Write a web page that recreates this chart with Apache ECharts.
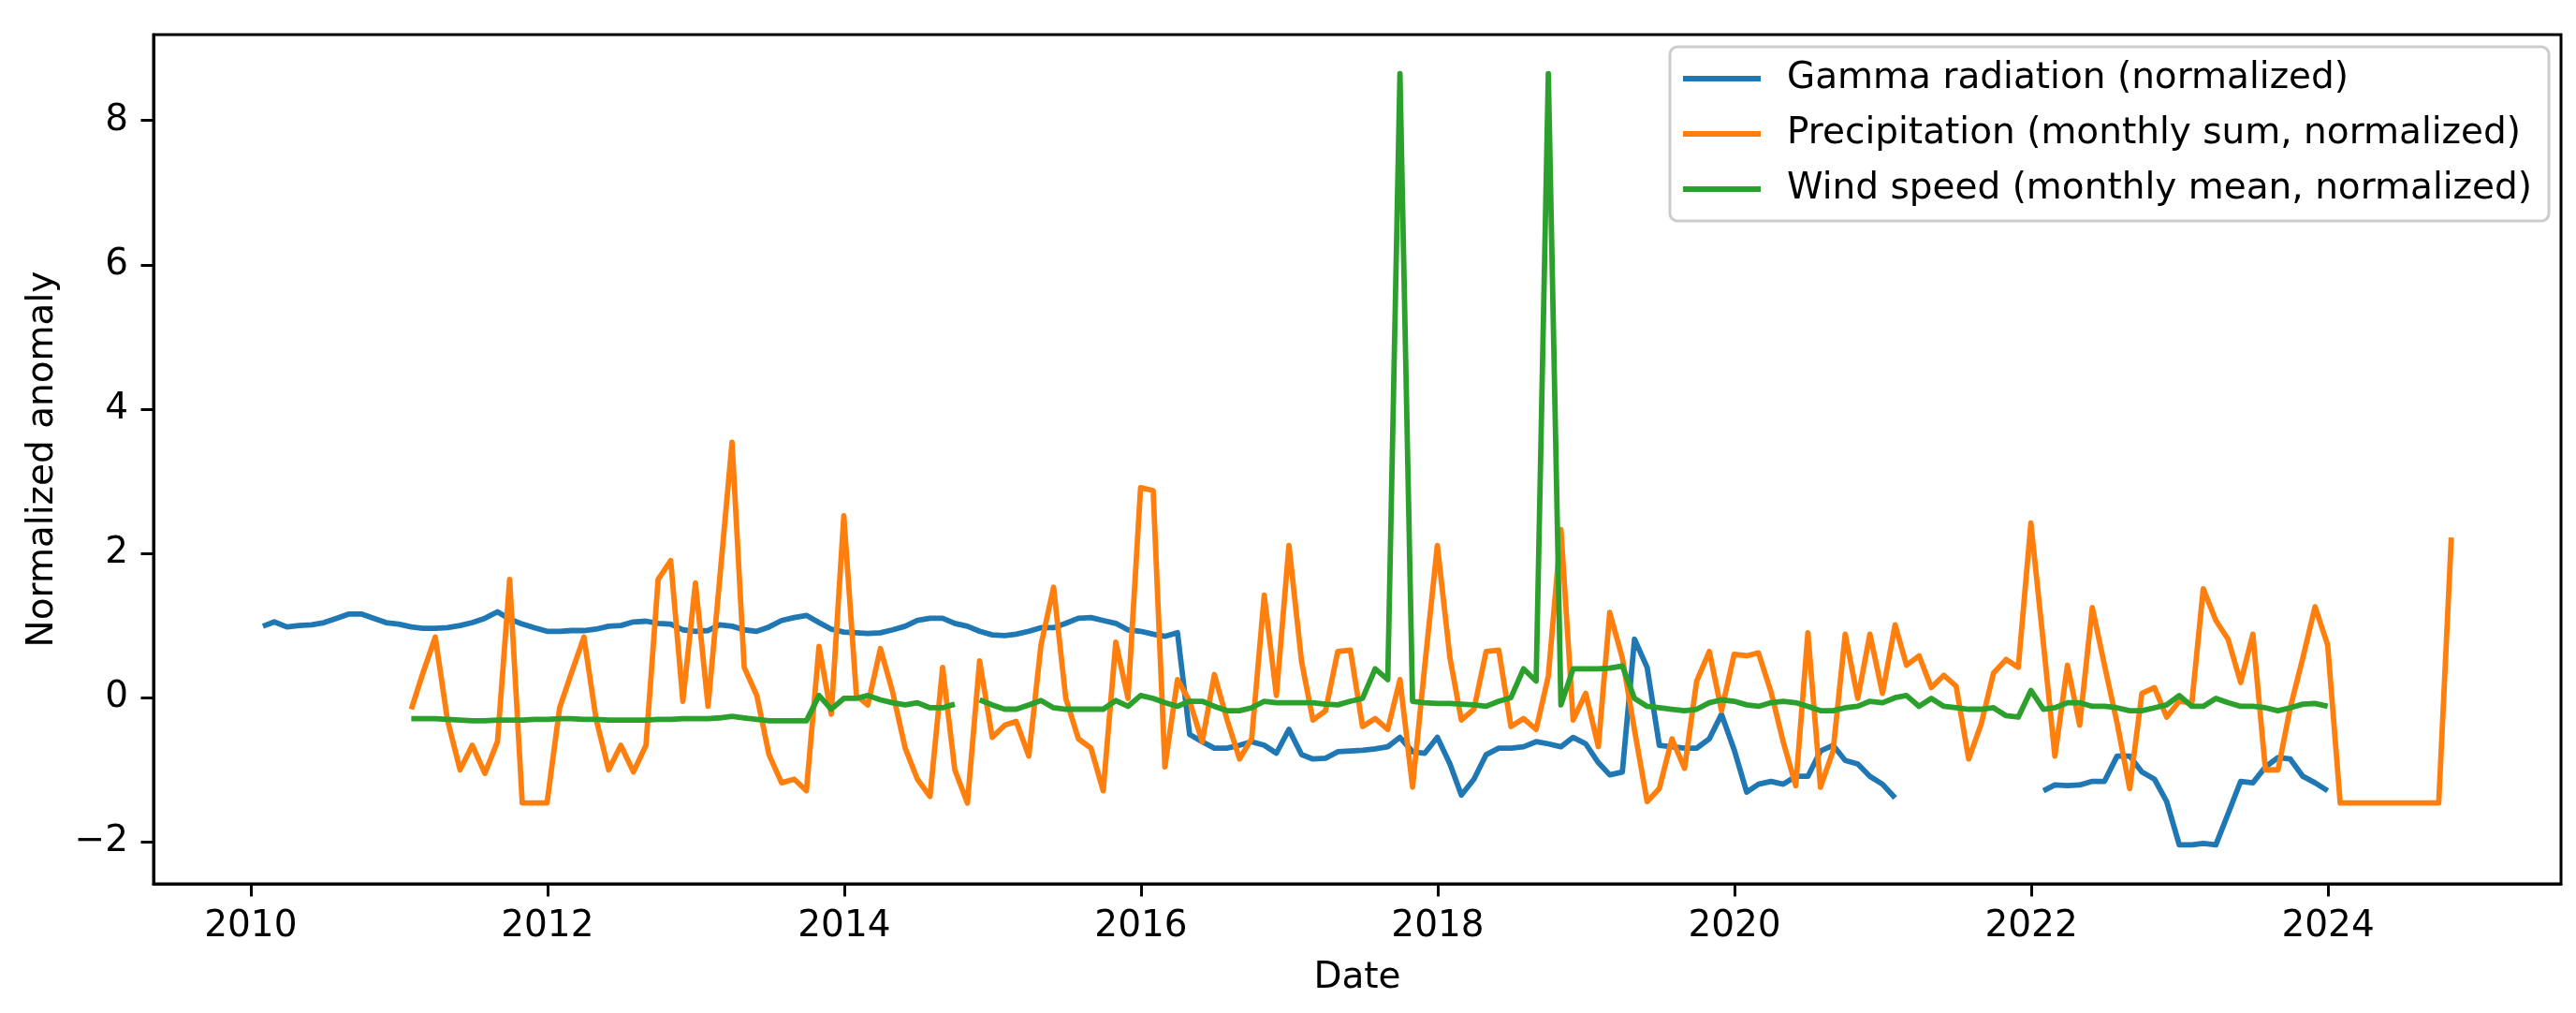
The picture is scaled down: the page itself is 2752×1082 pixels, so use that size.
<!DOCTYPE html>
<html>
<head>
<meta charset="utf-8">
<script src="https://cdn.jsdelivr.net/npm/echarts@6/dist/echarts.min.js"></script>
<style>
html,body{margin:0;padding:0;background:#fff;}
#chart{width:2752px;height:1082px;}
</style>
</head>
<body>
<div id="chart"></div>
<script>
// Series names
const seriesNames = [
  'Gamma radiation (normalized)',
  'Precipitation (monthly sum, normalized)',
  'Wind speed (monthly mean, normalized)'
];
// First month (year, month 1-12) of each monthly series (month-end dates)
const gammaStart = [2010, 1];
const precipStart = [2011, 1];
const windStart = [2011, 1];

// Gamma radiation, Jan 2010 .. Dec 2023 (null = missing)
const gammaValues = [
  0.99, 1.05, 0.98, 1.00, 1.01, 1.04, 1.10, 1.16, 1.16, 1.10, 1.04, 1.02,
  0.98, 0.96, 0.96, 0.97, 1.00, 1.04, 1.10, 1.19, 1.09, 1.02, 0.97, 0.92,
  0.92, 0.93, 0.93, 0.95, 0.99, 1.00, 1.05, 1.06, 1.03, 1.02, 0.94, 0.92,
  0.93, 1.01, 0.99, 0.94, 0.92, 0.98, 1.07, 1.11, 1.14, 1.04, 0.95, 0.91,
  0.90, 0.89, 0.90, 0.94, 0.99, 1.07, 1.10, 1.10, 1.03, 0.99, 0.92, 0.87,
  0.86, 0.88, 0.92, 0.97, 0.97, 1.03, 1.10, 1.11, 1.07, 1.03, 0.94, 0.92,
  0.88, 0.85, 0.90, -0.51, -0.61, -0.70, -0.70, -0.66, -0.61, -0.66, -0.77, -0.44,
  -0.79, -0.85, -0.84, -0.75, -0.74, -0.73, -0.71, -0.68, -0.55, -0.75, -0.77, -0.55,
  -0.92, -1.35, -1.13, -0.79, -0.70, -0.70, -0.68, -0.61, -0.64, -0.68, -0.55, -0.64,
  -0.90, -1.07, -1.03, 0.81, 0.42, -0.66, -0.68, -0.70, -0.70, -0.57, -0.23, -0.72,
  -1.31, -1.20, -1.16, -1.20, -1.09, -1.09, -0.74, -0.66, -0.87, -0.92, -1.09, -1.20,
  -1.39, null, null, null, null, null, null, null, null, null, null, null,
  -1.29, -1.21, -1.22, -1.21, -1.16, -1.16, -0.81, -0.81, -1.03, -1.13, -1.44, -2.04,
  -2.04, -2.02, -2.04, -1.61, -1.16, -1.18, -0.96, -0.83, -0.85, -1.09, -1.18, -1.29
];

// Precipitation, Jan 2011 .. Oct 2024
const precipValues = [
  -0.16, 0.33, 0.84, -0.31, -1.00, -0.66, -1.05, -0.61, 1.64, -1.46, -1.46, -1.46,
  -0.14, 0.34, 0.84, -0.30, -1.00, -0.66, -1.03, -0.66, 1.64, 1.90, -0.05, 1.59,
  -0.12, 1.60, 3.54, 0.42, 0.03, -0.79, -1.18, -1.13, -1.29, 0.71, -0.23, 2.52,
  0.03, -0.10, 0.68, 0.08, -0.70, -1.13, -1.37, 0.42, -1.00, -1.46, 0.51, -0.55,
  -0.38, -0.33, -0.81, 0.73, 1.53, -0.01, -0.57, -0.70, -1.29, 0.77, -0.01, 2.91,
  2.87, -0.96, 0.25, -0.05, -0.61, 0.32, -0.30, -0.85, -0.57, 1.42, 0.03, 2.11,
  0.50, -0.31, -0.18, 0.64, 0.66, -0.40, -0.29, -0.44, 0.25, -1.24, 0.44, 2.11,
  0.55, -0.31, -0.16, 0.64, 0.66, -0.40, -0.29, -0.44, 0.30, 2.33, -0.31, 0.06,
  -0.68, 1.18, 0.55, -0.45, -1.44, -1.26, -0.57, -0.98, 0.23, 0.64, -0.18, 0.60,
  0.58, 0.62, 0.08, -0.61, -1.22, 0.90, -1.24, -0.74, 0.88, -0.01, 0.88, 0.06,
  1.01, 0.45, 0.58, 0.14, 0.31, 0.16, -0.85, -0.36, 0.34, 0.53, 0.42, 2.42,
  0.74, -0.81, 0.45, -0.38, 1.25, 0.45, -0.35, -1.26, 0.06, 0.14, -0.27, -0.05,
  -0.07, 1.51, 1.07, 0.81, 0.21, 0.88, -1.00, -1.00, -0.14, 0.55, 1.26, 0.73,
  -1.46, -1.46, -1.46, -1.46, -1.46, -1.46, -1.46, -1.46, -1.46, 2.22
];

// Wind speed, Jan 2011 .. Dec 2023 (null = missing)
const windValues = [
  -0.29, -0.29, -0.29, -0.30, -0.31, -0.32, -0.32, -0.31, -0.31, -0.31, -0.30, -0.30,
  -0.29, -0.29, -0.30, -0.30, -0.31, -0.31, -0.31, -0.31, -0.30, -0.30, -0.29, -0.29,
  -0.29, -0.28, -0.26, -0.28, -0.30, -0.32, -0.32, -0.32, -0.32, 0.03, -0.16, -0.01,
  -0.01, 0.03, -0.03, -0.07, -0.10, -0.07, -0.14, -0.14, -0.09, null, -0.03, -0.10,
  -0.16, -0.16, -0.10, -0.04, -0.14, -0.16, -0.16, -0.16, -0.16, -0.04, -0.12, 0.03,
  -0.01, -0.07, -0.12, -0.05, -0.05, -0.12, -0.18, -0.18, -0.14, -0.05, -0.07, -0.07,
  -0.07, -0.07, -0.09, -0.10, -0.05, -0.01, 0.40, 0.25, 8.65, -0.05, -0.07, -0.08,
  -0.08, -0.09, -0.10, -0.12, -0.05, 0.00, 0.40, 0.23, 8.65, -0.10, 0.40, 0.40,
  0.40, 0.41, 0.44, -0.01, -0.12, -0.14, -0.16, -0.18, -0.16, -0.07, -0.03, -0.05,
  -0.10, -0.12, -0.07, -0.05, -0.07, -0.12, -0.18, -0.18, -0.14, -0.12, -0.05, -0.07,
  0.00, 0.03, -0.12, -0.01, -0.12, -0.14, -0.16, -0.16, -0.14, -0.25, -0.27, 0.10,
  -0.16, -0.14, -0.07, -0.07, -0.12, -0.12, -0.14, -0.18, -0.18, -0.14, -0.10, 0.03,
  -0.12, -0.12, -0.01, -0.07, -0.12, -0.12, -0.14, -0.18, -0.14, -0.09, -0.08, -0.12
];

// Axis ticks
const xTicks = [2010, 2012, 2014, 2016, 2018, 2020, 2022, 2024];
const yTicks = [-2, 0, 2, 4, 6, 8];
const colors = ['#1f77b4', '#ff7f0e', '#2ca02c'];

// month-end date -> decimal year
function monthEndYear(y, m) {
  const t = Date.UTC(y, m, 0); // last day of month m (1-based)
  const y0 = Date.UTC(y, 0, 1), y1 = Date.UTC(y + 1, 0, 1);
  return y + (t - y0) / (y1 - y0);
}
function buildSeries(start, values) {
  return values.map((v, i) => {
    const idx = (start[1] - 1) + i;
    const y = start[0] + Math.floor(idx / 12);
    const m = (idx % 12) + 1;
    return [monthEndYear(y, m), v];
  });
}

const FONT = 'DejaVu Sans';
const FS = 39;
const chart = echarts.init(document.getElementById('chart'), null, {renderer: 'canvas'});

const lineSeries = [
  [gammaStart, gammaValues],
  [precipStart, precipValues],
  [windStart, windValues]
].map((p, k) => ({
  name: seriesNames[k],
  type: 'line',
  data: buildSeries(p[0], p[1]),
  showSymbol: false,
  symbol: 'none',
  connectNulls: false,
  lineStyle: {color: colors[k], width: 5.8, join: 'round', cap: 'butt'},
  itemStyle: {color: colors[k]},
  emphasis: {disabled: true},
  animation: false
}));

chart.setOption({
  animation: false,
  backgroundColor: '#ffffff',
  grid: {
    left: 164, right: 16, top: 37, bottom: 138,
    show: true, borderColor: '#000000', borderWidth: 3, backgroundColor: 'transparent'
  },
  legend: {
    orient: 'vertical',
    left: 1784, top: 50,
    icon: 'rect',
    itemWidth: 83, itemHeight: 6,
    itemGap: 15,
    padding: [12, 18, 12, 14],
    backgroundColor: 'rgba(255,255,255,0.8)',
    borderColor: '#cccccc', borderWidth: 3, borderRadius: 8,
    textStyle: {fontFamily: FONT, fontSize: FS, color: '#000', lineHeight: 44, padding: [0, 0, 0, 23]},
    data: seriesNames
  },
  xAxis: {
    type: 'value',
    min: 2009.345, max: 2025.57,
    position: 'bottom',
    name: 'Date', nameLocation: 'middle', nameGap: 81,
    nameTextStyle: {fontFamily: FONT, fontSize: FS, color: '#000'},
    axisLine: {show: true, onZero: false, lineStyle: {color: '#000', width: 3}},
    splitLine: {show: false},
    axisTick: {show: true, inside: false, customValues: xTicks, length: 13.5, lineStyle: {color: '#000', width: 3}},
    axisLabel: {show: true, customValues: xTicks, margin: 26, fontFamily: FONT, fontSize: FS, color: '#000',
      formatter: v => String(Math.round(v))}
  },
  yAxis: {
    type: 'value',
    min: -2.58, max: 9.19,
    position: 'left',
    name: 'Normalized anomaly', nameLocation: 'middle', nameGap: 99,
    nameTextStyle: {fontFamily: FONT, fontSize: FS, color: '#000'},
    axisLine: {show: true, onZero: false, lineStyle: {color: '#000', width: 3}},
    splitLine: {show: false},
    axisTick: {show: true, inside: false, customValues: yTicks, length: 13.5, lineStyle: {color: '#000', width: 3}},
    axisLabel: {show: true, customValues: yTicks, margin: 27, fontFamily: FONT, fontSize: FS, color: '#000',
      formatter: v => String(Math.round(v)).replace('-', '\u2212')}
  },
  series: lineSeries
});
</script>
</body>
</html>
